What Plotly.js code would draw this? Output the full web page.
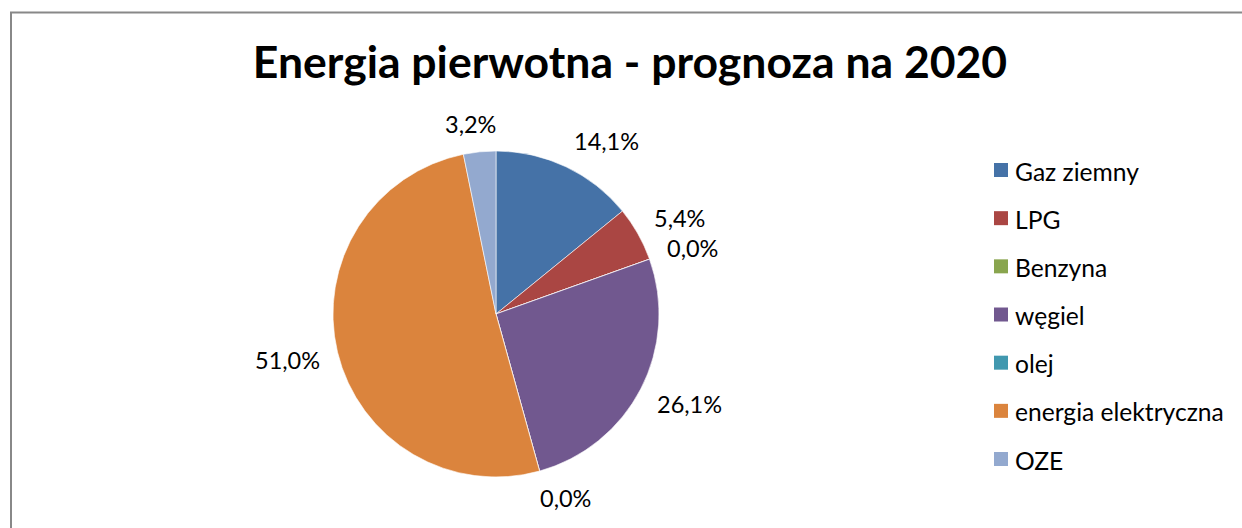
<!DOCTYPE html>
<html><head><meta charset="utf-8">
<script src="https://cdn.plot.ly/plotly-3.0.1.min.js"></script>
<style>html,body{margin:0;padding:0;background:#fff;overflow:hidden}#chart{width:1242px;height:528px}</style>
</head><body><div id="chart"></div>
<script>
const categories = ['Gaz ziemny','LPG','Benzyna','węgiel','olej','energia elektryczna','OZE'];
const values = [14.1, 5.4, 0.0, 26.1, 0.0, 51.0, 3.2];
const colors = ['#4572A7','#AA4643','#89A54E','#71588F','#4198AF','#DB843D','#93A9CF'];
const titleText = 'Energia pierwotna - prognoza na 2020';

const W = 1242, H = 528;
const FONT = 'Lato, "Open Sans", sans-serif';
const labelSize = 23.5, legendSize = 24.6, titleSize = 44.5;
const cx = 496, cy = 314, R = 163;

const px = x => x / W;
const py = y => (H - y) / H;

const canvas = document.createElement('canvas');
const ctx = canvas.getContext('2d');
function textW(t, size, bold) { ctx.font = (bold ? 'bold ' : '') + size + 'px Lato'; return ctx.measureText(t).width; }
const fmt = v => v.toFixed(1).replace('.', ',') + '%';
const clamp = v => Math.max(-1, Math.min(1, v));

const total = values.reduce((a, b) => a + b, 0);
const annotations = [];
const shapes = [];
let cum = 0;
values.forEach((v, i) => {
  const mid = (cum + v / 2) / total;
  cum += v;
  const th = mid * 2 * Math.PI;
  const dx = Math.sin(th), dy = -Math.cos(th);
  const d = R + 18;
  const Px = cx + dx * d, Py = cy + dy * d;
  const t = fmt(v);
  const w = textW(t, labelSize, false), h = 20;
  const lx = Px + clamp(3 * dx) * w / 2;
  const ly = Py + clamp(1.5 * dy) * h / 2;
  annotations.push({ xref: 'paper', yref: 'paper', x: px(lx), y: py(ly), xanchor: 'center', yanchor: 'middle',
    text: t, showarrow: false, font: { family: FONT, size: labelSize, color: '#000' } });
});

// legend
const legY0 = 170, legStep = 48.17, sq = 14, sqX = 994, txtX = 1013;
categories.forEach((c, i) => {
  const yc = legY0 + i * legStep;
  shapes.push({ type: 'rect', xref: 'paper', yref: 'paper', x0: px(sqX), x1: px(sqX + sq), y0: py(yc + sq / 2), y1: py(yc - sq / 2),
    fillcolor: colors[i], line: { width: 0 } });
  annotations.push({ xref: 'paper', yref: 'paper', x: px(txtX), y: py(yc + 1), xanchor: 'left', yanchor: 'middle',
    text: c, showarrow: false, font: { family: FONT, size: legendSize, color: '#000' } });
});

// chart border
shapes.push({ type: 'rect', xref: 'paper', yref: 'paper', x0: px(11), x1: px(W + 20), y0: py(H + 20), y1: py(12.5),
  line: { color: '#888888', width: 2 }, fillcolor: 'rgba(0,0,0,0)' });

const trace = {
  type: 'pie', values: values, labels: categories, sort: false, direction: 'clockwise', rotation: 0,
  marker: { colors: colors, line: { color: '#ffffff', width: 0.6 } },
  textinfo: 'none', hoverinfo: 'label+percent', showlegend: false,
  domain: { x: [px(cx - R), px(cx + R)], y: [py(cy + R), py(cy - R)] }
};

const layout = {
  width: W, height: H, margin: { l: 0, r: 0, t: 0, b: 0 },
  paper_bgcolor: '#ffffff', plot_bgcolor: '#ffffff', showlegend: false,
  title: { text: '<b>' + titleText + '</b>', x: px(630), xref: 'paper', xanchor: 'center', y: 1 - 62 / H, yref: 'container', yanchor: 'middle',
    font: { family: FONT, size: titleSize, color: '#000' } },
  annotations: annotations, shapes: shapes
};

Plotly.newPlot('chart', [trace], layout, { displayModeBar: false, staticPlot: true });
</script></body></html>
